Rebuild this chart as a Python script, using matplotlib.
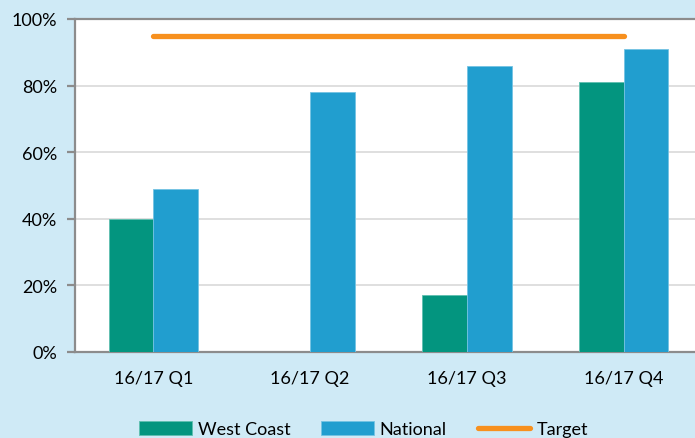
import matplotlib.pyplot as plt
import numpy as np
from matplotlib.ticker import PercentFormatter

quarters = ['16/17 Q1', '16/17 Q2', '16/17 Q3', '16/17 Q4']
west_coast = [40, 0, 17, 81]
national = [49, 78, 86, 91]
target = [95, 95, 95, 95]

bg = '#CFEAF6'
teal = '#03957F'
blue = '#219ECF'
orange = '#F7901E'

plt.rcParams['font.family'] = ['Lato', 'DejaVu Sans']

fig = plt.figure(figsize=(6.95, 4.39), dpi=100, facecolor=bg)
ax = fig.add_axes([75 / 695, 1 - 353 / 439, 627 / 695, 333 / 439])
ax.set_facecolor('white')

x = np.arange(len(quarters))
w = 0.286
b1 = ax.bar(x - w / 2, west_coast, w, color=teal, edgecolor='#5FBFB0', linewidth=0.6,
            label='West Coast', zorder=3)
b2 = ax.bar(x + w / 2, national, w, color=blue, edgecolor='#74C3E3', linewidth=0.6,
            label='National', zorder=3)
ln, = ax.plot(x, target, color=orange, lw=3.8, solid_capstyle='round',
              label='Target', zorder=4)

ax.set_xlim(-0.5, 3.5)
ax.set_ylim(0, 100)
ax.set_yticks(range(0, 101, 20))
ax.yaxis.set_major_formatter(PercentFormatter(decimals=0))
ax.set_xticks(x)
ax.set_xticklabels(quarters)
ax.grid(axis='y', color='#D9D9D9', lw=1.2, zorder=0)

ax.spines['right'].set_visible(False)
for s in ['left', 'bottom', 'top']:
    ax.spines[s].set_color('#8C8C8C')
    ax.spines[s].set_linewidth(1.6)
ax.tick_params(axis='y', length=6, width=1.6, color='#8C8C8C', labelsize=13, pad=7)
ax.tick_params(axis='x', length=0, labelsize=13, pad=13)

fig.legend([b1, b2, ln], ['West Coast', 'National', 'Target'],
           loc='lower center', bbox_to_anchor=(0.523, -0.035), ncol=3,
           frameon=False, fontsize=13, handlelength=2.9, handleheight=0.8,
           columnspacing=1.7, handletextpad=0.35)

plt.savefig('out.png', dpi=100, facecolor=bg)
